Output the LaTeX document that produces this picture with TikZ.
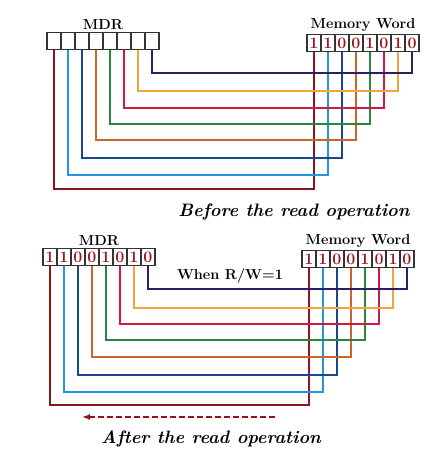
\documentclass[tikz,border=0pt]{standalone}
\usepackage{tikz}
\usetikzlibrary{arrows.meta, positioning}

\definecolor{bit0}{RGB}{140,22,28}
\definecolor{bit1}{RGB}{35,150,225}
\definecolor{bit2}{RGB}{25,72,140}
\definecolor{bit3}{RGB}{205,100,40}
\definecolor{bit4}{RGB}{40,135,60}
\definecolor{bit5}{RGB}{210,25,65}
\definecolor{bit6}{RGB}{240,165,65}
\definecolor{bit7}{RGB}{45,30,100}
\definecolor{celltxt}{RGB}{160,20,30}

\begin{document}
\begin{tikzpicture}[x=1pt, y=-1pt,
    cell/.style={draw=black!80, line width=1.3pt, fill=white, minimum width=14pt,
        minimum height=17pt, inner sep=0pt, outer sep=0pt,
        font=\fontsize{16}{16}\selectfont\bfseries, text=celltxt},
    title/.style={font=\fontsize{14.5}{16}\selectfont\bfseries, inner sep=1pt},
    caption/.style={font=\fontsize{18}{20}\selectfont\bfseries\itshape},
    wire/.style={line width=2pt}]
    \useasboundingbox (0,0) rectangle (440,458);

    % Antes de la lectura
    \foreach \i/\b in {0/1,1/1,2/0,3/0,4/1,5/0,6/1,7/0} {
        \node[cell] (mdrA-\i) at (54+14*\i,41) {};
        \node[cell] (memA-\i) at (314+14*\i,43) {\b};
    }
    \node[title, above=2pt of mdrA-3.north east] (lblA) {MDR};
    \node[title, above=2pt of memA-3.north east] (lblB) {Memory Word};
    \foreach \i/\d in {0/139,1/125,2/108,3/90,4/74,5/58,6/41,7/23}
        \draw[wire, bit\i] (mdrA-\i.south) -- ++(0,\d) -| (memA-\i.south);
    \node[caption] (before) at (294,212) {Before the read operation};

    % Después de la lectura
    \foreach \i/\b in {0/1,1/1,2/0,3/0,4/1,5/0,6/1,7/0} {
        \node[cell] (mdrB-\i) at (50+14*\i,257) {\b};
        \node[cell] (memB-\i) at (309+14*\i,259) {\b};
    }
    \node[title, above=2pt of mdrB-3.north east] (lblC) {MDR};
    \node[title, above=2pt of memB-3.north east] (lblD) {Memory Word};
    \node[title] (rw) at (230,276) {When R/W=1};
    \foreach \i/\d in {0/139,1/126,2/109,3/91,4/74,5/58,6/42,7/23}
        \draw[wire, bit\i] (mdrB-\i.south) -- ++(0,\d) -| (memB-\i.south);

    % Flecha
    \coordinate (arrS) at (275,417);
    \coordinate (arrE) at (82,417);
    \draw[bit0, line width=1.5pt, dash pattern=on 6pt off 3pt, -{Latex[length=8pt, width=6pt]}] (arrS) -- (arrE);
    \node[caption] (after) at (211,439) {After the read operation};
\end{tikzpicture}
\end{document}
